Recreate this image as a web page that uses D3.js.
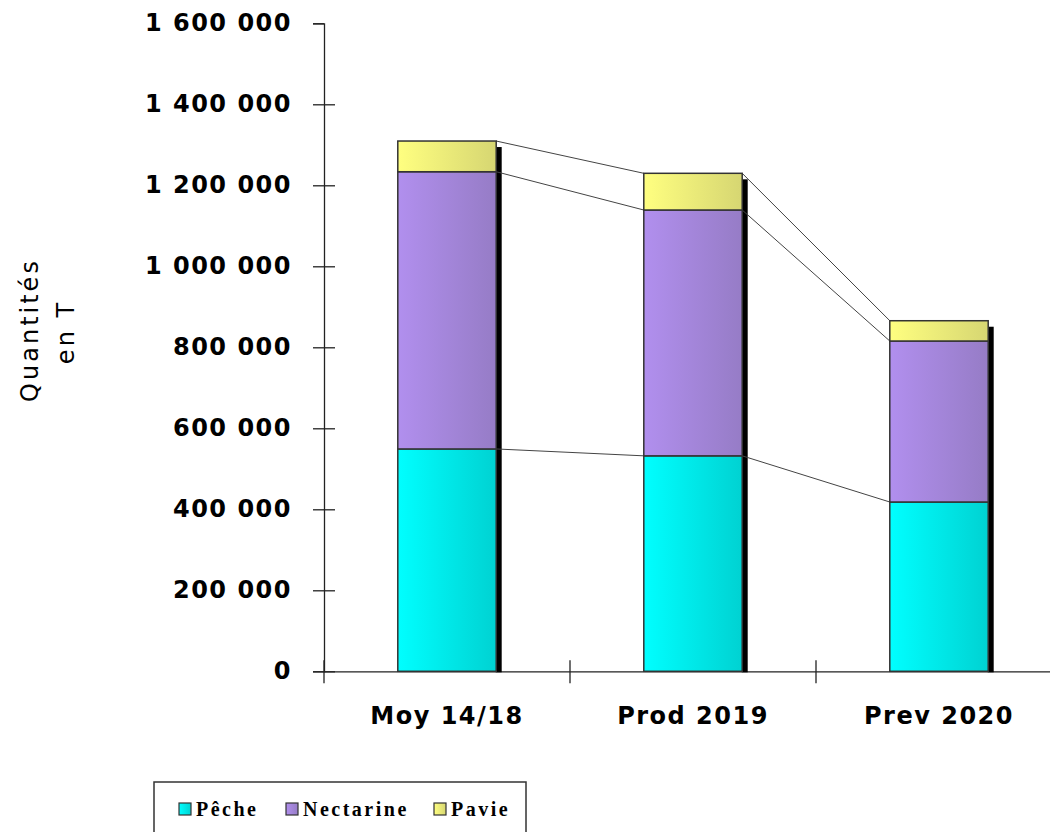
<!DOCTYPE html>
<html>
<head>
<meta charset="utf-8">
<script src="https://cdn.jsdelivr.net/npm/d3@7"></script>
<style>
  body { margin: 0; background: #fff; }
  svg { display: block; }
</style>
</head>
<body>
<svg id="mysvg" width="1050" height="832"></svg>
<script>
var categories = ["Moy 14/18", "Prod 2019", "Prev 2020"];
var series = ["Pêche", "Nectarine", "Pavie"];
var peche = [549000, 532000, 418000];
var nectarine = [684500, 607000, 397500];
var pavie = [75800, 90600, 50100];
var yTicks = [0, 200000, 400000, 600000, 800000, 1000000, 1200000, 1400000, 1600000];

var colorsLeft = ["#00ffff", "#b18fee", "#ffff80"];
var colorsRight = ["#00d2d2", "#967cc6", "#d6d672"];

var mydata = [];
for (var i = 0; i < categories.length; i++) {
  mydata.push({cat: categories[i], "Pêche": peche[i], "Nectarine": nectarine[i], "Pavie": pavie[i]});
}
var stacked = d3.stack().keys(series)(mydata);

var svg = d3.select("svg");

var x = d3.scaleBand().domain(categories).range([324, 1062]).paddingInner(0.6).paddingOuter(0.3),
    y = d3.scaleLinear().domain([0, 1600000]).range([671.3, 23.3]);

// gradients for the bars
var defs = svg.append("defs");
series.forEach(function(s, i) {
  var grad = defs.append("linearGradient")
      .attr("id", "grad" + i)
      .attr("x1", "0%").attr("x2", "100%").attr("y1", "0%").attr("y2", "0%");
  grad.append("stop").attr("offset", "0%").attr("stop-color", colorsLeft[i]);
  grad.append("stop").attr("offset", "100%").attr("stop-color", colorsRight[i]);
});

var fmt = function(d) { return d3.format(",")(d).replace(/,/g, " "); };

// y axis
var yAxis = svg.append("g")
    .attr("transform", "translate(324,0)")
    .call(d3.axisLeft(y).tickValues(yTicks).tickSize(11).tickPadding(21).tickFormat(fmt));
yAxis.select(".domain").attr("stroke", "#222").attr("stroke-width", 1.3);
yAxis.selectAll(".tick line")
    .attr("stroke", "#222").attr("stroke-width", 1.3)
    .attr("x1", function(d) { return d === 1600000 ? 0 : 11; });
yAxis.selectAll("text")
    .attr("fill", "#000")
    .style("font-family", "'Comic Sans MS', 'DejaVu Sans', sans-serif")
    .style("font-weight", "bold")
    .style("font-size", "24px")
    .style("letter-spacing", "1.5px");

// x axis
var xAxis = svg.append("g")
    .attr("transform", "translate(0," + y(0) + ")")
    .call(d3.axisBottom(x).tickSize(0).tickPadding(36).tickSizeOuter(0));
xAxis.select(".domain").attr("stroke", "#222").attr("stroke-width", 1.3);
xAxis.selectAll("text")
    .attr("fill", "#000")
    .style("font-family", "'Comic Sans MS', 'DejaVu Sans', sans-serif")
    .style("font-weight", "bold")
    .style("font-size", "24px")
    .style("letter-spacing", "1.5px");

// ticks between the categories
var edge = (x.step() - x.bandwidth()) / 2;
svg.append("g").selectAll("line")
  .data(categories)
  .enter().append("line")
    .attr("x1", function(d) { return x(d) - edge; })
    .attr("x2", function(d) { return x(d) - edge; })
    .attr("y1", y(0) - 11)
    .attr("y2", y(0) + 12)
    .attr("stroke", "#222").attr("stroke-width", 1.3);

// shadows
svg.append("g").selectAll("rect")
  .data(categories)
  .enter().append("rect")
    .attr("x", function(d) { return x(d) + x.bandwidth() - 0.5; })
    .attr("y", function(d, i) { return y(stacked[2][i][1]) + 6; })
    .attr("width", 6)
    .attr("height", function(d, i) { return y(0) + 1 - y(stacked[2][i][1]) - 6; })
    .attr("fill", "#000");

// connector lines between bars
stacked.forEach(function(layer) {
  for (var i = 0; i < layer.length - 1; i++) {
    svg.append("line")
      .attr("x1", x(categories[i]) + x.bandwidth())
      .attr("y1", y(layer[i][1]))
      .attr("x2", x(categories[i + 1]))
      .attr("y2", y(layer[i + 1][1]))
      .attr("stroke", "#444")
      .attr("stroke-width", 1);
  }
});

// stacked bars
svg.append("g").selectAll("g")
  .data(stacked)
  .enter().append("g")
    .attr("fill", function(d, i) { return "url(#grad" + i + ")"; })
  .selectAll("rect")
  .data(function(d) { return d; })
  .enter().append("rect")
    .attr("x", function(d) { return x(d.data.cat); })
    .attr("y", function(d) { return y(d[1]); })
    .attr("width", x.bandwidth())
    .attr("height", function(d) { return y(d[0]) - y(d[1]); })
    .attr("stroke", "#333")
    .attr("stroke-width", 1.5);

// y title
svg.append("text")
    .attr("text-anchor", "middle")
    .attr("transform", "translate(38,330)rotate(-90)")
    .style("font-family", "'DejaVu Sans', sans-serif")
    .style("font-size", "24px")
    .style("letter-spacing", "3px")
    .attr("fill", "#000")
    .text("Quantités");
svg.append("text")
    .attr("text-anchor", "middle")
    .attr("transform", "translate(74,332)rotate(-90)")
    .style("font-family", "'DejaVu Sans', sans-serif")
    .style("font-size", "24px")
    .style("letter-spacing", "3px")
    .attr("fill", "#000")
    .text("en T");

// legend
svg.append("rect")
    .attr("x", 154).attr("y", 782)
    .attr("width", 372).attr("height", 70)
    .attr("fill", "#fff").attr("stroke", "#333").attr("stroke-width", 1.5);

var legX = [179, 286, 434];
var leg = svg.append("g").selectAll("g")
  .data(series)
  .enter().append("g")
    .attr("transform", function(d, i) { return "translate(" + legX[i] + ",803)"; });
leg.append("rect")
    .attr("width", 12).attr("height", 12)
    .attr("fill", function(d, i) { return "url(#grad" + i + ")"; })
    .attr("stroke", "#333").attr("stroke-width", 1.2);
leg.append("text")
    .attr("x", 17).attr("y", 13)
    .text(function(d) { return d; })
    .style("font-family", "'Liberation Serif', 'Times New Roman', serif")
    .style("font-weight", "bold")
    .style("font-size", "20px")
    .style("letter-spacing", "2.5px")
    .attr("fill", "#000");
</script>
</body>
</html>
